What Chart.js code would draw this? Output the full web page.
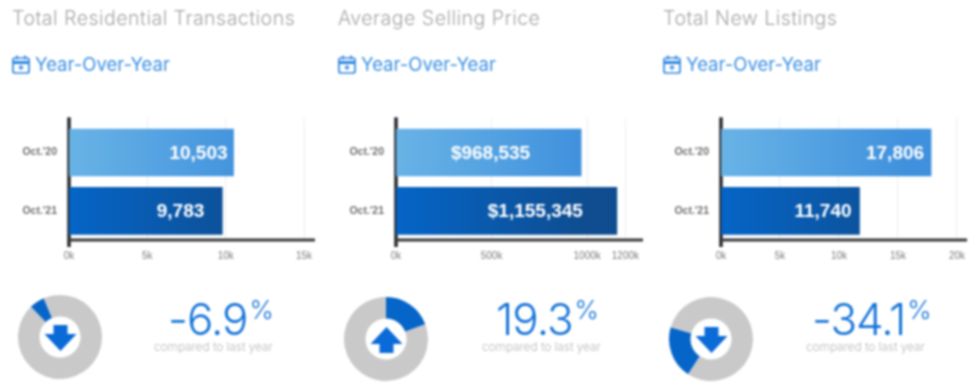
<!DOCTYPE html>
<html><head><meta charset="utf-8">
<script src="https://cdn.jsdelivr.net/npm/chart.js@4"></script>
<style>
html,body{margin:0;padding:0;background:#fff;width:975px;height:384px;overflow:hidden}
#wrap{position:relative;width:975px;height:384px;filter:blur(.8px);font-family:Inter,"Open Sans",sans-serif}
#wrap>*{position:absolute}
canvas{display:block}
.t{white-space:nowrap;line-height:1}
.title{font-size:19.6px;font-weight:300;color:#a6a6a6;letter-spacing:.45px;top:9px}
.yoy{font-size:18.5px;font-weight:400;color:#3b8fe2;top:55px}
.pct{font-size:44px;font-weight:300;color:#1272d8;top:297px;letter-spacing:-1px}
.pct sup{font-size:26px;font-weight:300;vertical-align:baseline;position:relative;top:-16px;margin-left:2px;letter-spacing:0}
.cmp{font-size:11.8px;font-weight:300;color:#b8b8b8;top:342px}
</style></head>
<body><div id="wrap"></div>
<script>
const categories = ["Oct.'20", "Oct.'21"];
const titles = ["Total Residential Transactions", "Average Selling Price", "Total New Listings"];
const periodLabel = "Year-Over-Year";
const transactions = [10503, 9783];
const sellingPrice = [968535, 1155345];
const newListings = [17806, 11740];
const transactionTicks = [0, 5000, 10000, 15000];
const priceTicks = [0, 500000, 1000000, 1200000];
const listingTicks = [0, 5000, 10000, 15000, 20000];
const axisMax = [15700, 1292000, 20850];
const labelPrefix = ["", "$", ""];
const changeLabels = ["-6.9", "19.3", "-34.1"];
const changeSlices = [5.9, 19.3, 20.3];
const sliceStart = [-44, 0, 213];
const arrowDirections = ["down", "up", "down"];
const compareText = "compared to last year";

const layout = [
  {left:0,   width:325, axisX:69,  right:315, titleX:12,  iconX:12,  yoyX:35,  cx:59.5, cy:337, pctX:168, cmpX:154, labelInset:[6,18]},
  {left:328, width:325, axisX:396, right:643, titleX:338, iconX:338, yoyX:361, cx:386,  cy:339, pctX:496, cmpX:482, labelInset:[51,34]},
  {left:652, width:323, axisX:721, right:967, titleX:663, iconX:663, yoyX:686, cx:711,  cy:339, pctX:812, cmpX:806, labelInset:[7,8]}
];
const wrap = document.getElementById('wrap');
const seriesList = [transactions, sellingPrice, newListings];
const tickList = [transactionTicks, priceTicks, listingTicks];

function el(tag, cls, x, html){
  const e = document.createElement(tag);
  if(cls) e.className = cls;
  e.style.left = x + 'px';
  if(html!==undefined) e.innerHTML = html;
  wrap.appendChild(e);
  return e;
}
function fmt(v){ return v.toLocaleString('en-US'); }
function gradient(ctx, area, a, b){
  const g = ctx.createLinearGradient(area.left, 0, area.left + 190, 0);
  g.addColorStop(0, a); g.addColorStop(1, b);
  return g;
}
const barExtras = {
  id:'barExtras',
  beforeDatasetsDraw(chart, args, o){
    const {ctx, chartArea:a, scales:{x}} = chart;
    ctx.save();
    ctx.strokeStyle = '#eeeeee'; ctx.lineWidth = 1;
    x.ticks.forEach((t,i)=>{ if(i===0) return;
      const p = x.getPixelForValue(t.value);
      ctx.beginPath(); ctx.moveTo(p,a.top-6); ctx.lineTo(p,a.top); ctx.stroke();
    });
    ctx.strokeStyle = '#26282c'; ctx.lineWidth = 3.5;
    ctx.beginPath(); ctx.moveTo(a.left,a.top-6); ctx.lineTo(a.left,a.bottom+7); ctx.stroke();
    ctx.strokeStyle = '#3a3a3a'; ctx.lineWidth = 3;
    ctx.beginPath(); ctx.moveTo(a.left,a.bottom); ctx.lineTo(a.right,a.bottom); ctx.stroke();
    ctx.restore();
  },
  afterDatasetsDraw(chart, args, o){
    const {ctx} = chart, meta = chart.getDatasetMeta(0);
    ctx.save();
    ctx.fillStyle = '#fff'; ctx.font = 'bold 19px "Liberation Sans",Arial,sans-serif';
    ctx.textAlign = 'right'; ctx.textBaseline = 'middle';
    meta.data.forEach((b,i)=>{
      ctx.fillText(o.prefix + fmt(chart.data.datasets[0].data[i]), b.x - o.inset[i], b.y + 1);
    });
    ctx.restore();
  }
};
const arrowPlugin = {
  id:'arrowMark',
  afterDraw(chart, args, o){
    const {ctx} = chart, m = chart.getDatasetMeta(0).data[0];
    const s = o.dir === 'up' ? -1 : 1;
    ctx.save(); ctx.translate(m.x + .5, m.y + 1);
    ctx.fillStyle = '#0a6ad8';
    ctx.beginPath();
    [[-7,-13],[7,-13],[7,-4],[16,-4],[0,13],[-16,-4],[-7,-4]].forEach((p,i)=>{
      const y = p[1]*s; i ? ctx.lineTo(p[0],y) : ctx.moveTo(p[0],y);
    });
    ctx.closePath(); ctx.fill(); ctx.restore();
  }
};
function calendar(x){
  const d = el('div','',x);
  d.style.top='55px'; d.style.width='18px'; d.style.height='19px';
  d.innerHTML = '<svg width="18" height="19" viewBox="0 0 18 19" fill="none" stroke="#2f86e0" stroke-width="1.7"><rect x="1" y="3" width="16" height="15" rx="2"/><path d="M1 7.5h16" stroke-width="3"/><path d="M5 .5v4M13 .5v4" /><path d="M9 10v5M6.5 12.5h5" stroke-width="1.4"/></svg>';
}
layout.forEach((L,i)=>{
  el('div','t title',L.titleX,titles[i]);
  calendar(L.iconX);
  el('div','t yoy',L.yoyX,periodLabel);
  el('div','t pct',L.pctX,changeLabels[i]+'<sup>%</sup>');
  el('div','t cmp',L.cmpX,compareText);

  const box = el('div','',L.left);
  box.style.top='105px'; box.style.width=L.width+'px'; box.style.height='162px';
  const cv = document.createElement('canvas'); box.appendChild(cv);
  new Chart(cv,{
    type:'bar',
    data:{labels:categories,datasets:[{
      data:seriesList[i],
      barThickness:47,
      backgroundColor(c){
        const area=c.chart.chartArea; if(!area) return '#3d8fdc';
        return c.dataIndex===0 ? gradient(c.chart.ctx,area,'#68b3e6','#3f90dd') : gradient(c.chart.ctx,area,'#0565c6','#0f4d90');
      }
    }]},
    plugins:[barExtras],
    options:{
      indexAxis:'y',responsive:true,maintainAspectRatio:false,animation:false,
      layout:{padding:{top:16,right:L.left+L.width-L.right,left:0,bottom:0}},
      plugins:{legend:{display:false},tooltip:{enabled:false},
        barExtras:{prefix:labelPrefix[i],inset:L.labelInset}},
      scales:{
        x:{type:'linear',min:0,max:axisMax[i],
          afterBuildTicks(s){s.ticks=tickList[i].map(v=>({value:v}));},
          afterFit(s){s.height=27;},
          border:{display:false},
          grid:{color:'#eeeeee',tickLength:6,tickColor:'transparent'},
          ticks:{autoSkip:false,maxRotation:0,padding:4,color:'#7a7a7a',
            font:{family:'"Liberation Sans",Arial,sans-serif',size:10},
            callback:v=>(v/1000)+'k'}
        },
        y:{afterFit(s){s.width=L.axisX-L.left;},
          border:{display:false},grid:{display:false,drawTicks:false},
          ticks:{padding:12,color:'#6e6e6e',
            font:{family:'"Liberation Sans",Arial,sans-serif',size:10.5,weight:'bold'}}
        }
      }
    }
  });

  const dbox = el('div','',L.cx-44);
  dbox.style.top=(L.cy-44)+'px'; dbox.style.width='88px'; dbox.style.height='88px';
  const dc = document.createElement('canvas'); dbox.appendChild(dc);
  new Chart(dc,{
    type:'doughnut',
    data:{labels:['change','rest'],datasets:[{
      data:[changeSlices[i],100-changeSlices[i]],
      backgroundColor:['#0565c8','#c9c9c9'],borderWidth:0
    }]},
    plugins:[arrowPlugin],
    options:{responsive:true,maintainAspectRatio:false,animation:false,
      radius:42,cutout:21.5,rotation:sliceStart[i],
      plugins:{legend:{display:false},tooltip:{enabled:false},arrowMark:{dir:arrowDirections[i]}}}
  });
});
</script></body></html>
